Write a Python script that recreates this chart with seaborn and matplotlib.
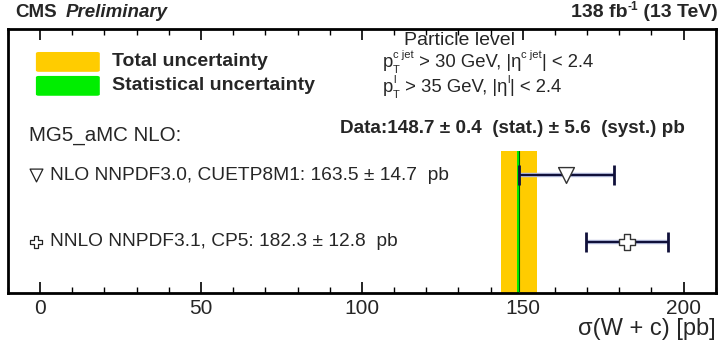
import matplotlib
matplotlib.use("Agg")
import matplotlib.pyplot as plt
import seaborn as sns
import pandas as pd
from matplotlib.ticker import MultipleLocator
from matplotlib.patches import FancyBboxPatch

# ---- data ----
data_value = 148.7
data_stat = 0.4
data_syst = 5.6
total_unc = 5.6

pred_names = ["NLO NNPDF3.0, CUETP8M1", "NNLO NNPDF3.1, CP5"]
pred_values = [163.5, 182.3]
pred_errors = [14.7, 12.8]
pred_markers = ["v", "P"]
pred_ypos = [0.447, 0.194]

xticks = [0, 50, 100, 150, 200]

sns.set_theme(style="ticks")
plt.rcParams['font.family'] = ['Liberation Sans', 'DejaVu Sans']

W, H = 718, 342
fig = plt.figure(figsize=(7.18, 3.42), dpi=100)
ax = fig.add_axes([0.011, 0.143, 0.986, 0.772])
renderer = fig.canvas.get_renderer()

df = pd.DataFrame({"name": pred_names, "value": pred_values, "err": pred_errors,
                   "y": pred_ypos, "marker": pred_markers})

band_top = 0.538
ax.axvspan(data_value - total_unc, data_value + total_unc, ymin=0, ymax=band_top,
           color="#ffcc00", lw=0, zorder=1)
ax.axvspan(data_value - data_stat, data_value + data_stat, ymin=0, ymax=band_top,
           color="#00ee00", lw=0, zorder=2)
ax.axvline(data_value, ymin=0, ymax=band_top, color="#005500", lw=0.8, zorder=3)

for _, r in df.iterrows():
    ax.errorbar(r["value"], r["y"], xerr=r["err"], fmt="none", ecolor="#b8c0e0",
                elinewidth=3.2, capsize=0, zorder=3.5)
    ax.errorbar(r["value"], r["y"], xerr=r["err"], fmt="none", ecolor="#10103a",
                elinewidth=1.6, capsize=7, capthick=2.0, zorder=4)
for _, r in df.iterrows():
    sns.scatterplot(x=[r["value"]], y=[r["y"]], marker=r["marker"], s=130,
                    color="white", edgecolor="#333333", linewidth=1.0, ax=ax, zorder=5)

ax.set_xlim(-10, 210)
ax.set_ylim(0, 1)
ax.set_yticks([])
ax.set_xticks(xticks)
ax.xaxis.set_minor_locator(MultipleLocator(10))
ax.tick_params(axis="x", which="major", direction="in", length=8, width=1.2,
               top=True, labelsize=15, pad=4, color="black")
ax.tick_params(axis="x", which="minor", direction="in", length=4, width=1.0,
               top=True, color="black")
for s in ax.spines.values():
    s.set_linewidth(2.0)
    s.set_color("black")
ax.set_xlabel("σ(W + c) [pb]", fontsize=17, loc="right", labelpad=0)


def put(x, y, s, size, **kw):
    t = fig.text(x / W, 1 - y / H, s, fontsize=size, va="baseline", ha="left", **kw)
    return t.get_window_extent(renderer).width


def rich(x, y, parts):
    """parts: (text, size, dy, kwargs); a text starting with \\x00 is stacked on the previous one"""
    i = 0
    while i < len(parts):
        txt, size, dy, kw = parts[i]
        w = put(x, y + dy, txt, size, **kw)
        if i + 1 < len(parts) and parts[i + 1][0].startswith("\x00"):
            t2, s2, d2, k2 = parts[i + 1]
            w = max(w, put(x, y + d2, t2[1:], s2, **k2))
            i += 1
        x += w
        i += 1


# top texts
fig.text(0.021, 0.963, "CMS", fontsize=13.5, fontweight="bold", va="center", ha="left")
fig.text(0.092, 0.963, "Preliminary", fontsize=13.5, fontweight="bold",
         style="italic", va="center", ha="left")
B = dict(fontweight="bold")
rich(571, 17, [("138 fb", 14, 0, B), ("-1", 8.5, -7, B), (" (13 TeV)", 14, 0, B)])

# legend boxes
for yc, col, lab in [(0.819, "#ffcc00", "Total uncertainty"),
                     (0.749, "#00ee00", "Statistical uncertainty")]:
    fig.patches.append(FancyBboxPatch((0.050, yc - 0.029), 0.089, 0.058,
                                      boxstyle="round,pad=0,rounding_size=0.004",
                                      transform=fig.transFigure, color=col, lw=0))
    fig.text(0.156, yc, lab, fontsize=14, fontweight="bold", va="center", ha="left")

fig.text(459 / W, 1 - 45 / H, "Particle level", fontsize=14, ha="center", va="baseline")
N = {}
rich(383, 67, [("p", 13.3, 0, N), ("T", 8, 6, N), ("\x00c jet", 8, -9, N),
               (" > 30 GeV, |η", 13.3, 0, N), ("c jet", 8, -9, N), ("| < 2.4", 13.3, 0, N)])
rich(383, 92, [("p", 13.3, 0, N), ("T", 8, 6, N), ("\x00l", 8, -9, N),
               (" > 35 GeV, |η", 13.3, 0, N), ("l", 8, -9, N), ("| < 2.4", 13.3, 0, N)])

fig.text(0.473, 0.624, f"Data:{data_value} ± {data_stat}  (stat.) ± {data_syst}  (syst.) pb",
         fontsize=13.6, fontweight="bold", ha="left", va="center")
fig.text(0.040, 0.605, "MG5_aMC NLO:", fontsize=14.8, ha="left", va="center")

for mk, name, v, e, y in zip(pred_markers, pred_names, pred_values, pred_errors, pred_ypos):
    ax.scatter([0.039], [y], transform=ax.transAxes, marker=mk, s=85,
               facecolor="white", edgecolor="#222222", linewidth=0.9, zorder=5)
    ax.text(0.059, y, f"{name}: {v} ± {e}  pb", transform=ax.transAxes,
            fontsize=13.8, ha="left", va="center")

fig.savefig("out.png", dpi=100)
